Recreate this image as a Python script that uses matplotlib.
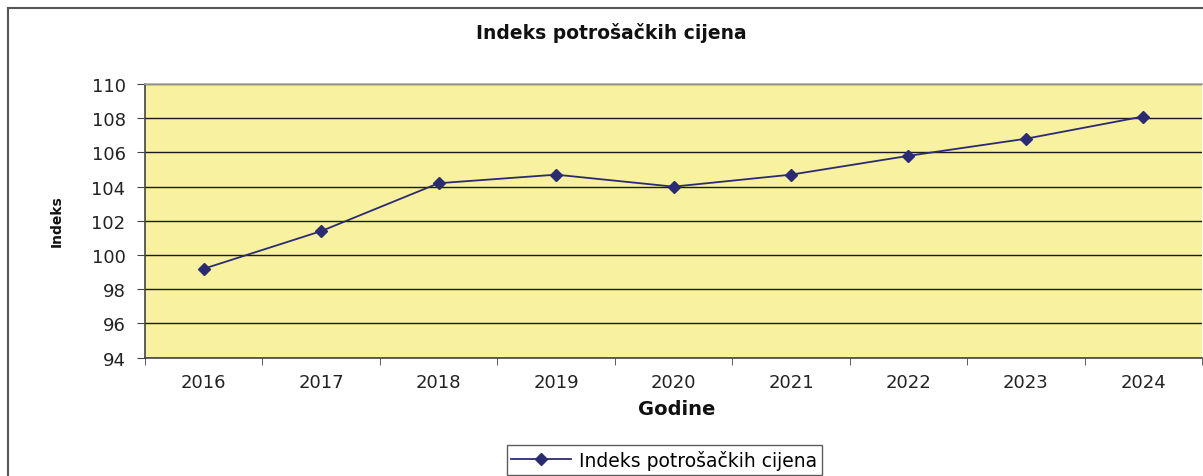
import matplotlib
matplotlib.use("Agg")
import matplotlib.pyplot as plt
from matplotlib.lines import Line2D

years = ["2016", "2017", "2018", "2019", "2020", "2021", "2022", "2023", "2024"]
values = [99.2, 101.4, 104.2, 104.7, 104.0, 104.7, 105.8, 106.8, 108.1]
yticks = [94, 96, 98, 100, 102, 104, 106, 108, 110]
title = "Indeks potrošačkih cijena"
series_name = "Indeks potrošačkih cijena"

W, H = 1203, 477
plt.rcParams['font.family'] = ['DejaVu Sans']
fig = plt.figure(figsize=(W / 100, H / 100), dpi=100)

# outer chart border
fig.add_artist(Line2D([8 / W, 8 / W], [0, 1 - 8.5 / H], transform=fig.transFigure,
                      color="#555555", lw=1.5))
fig.add_artist(Line2D([8 / W, 1], [1 - 8.5 / H, 1 - 8.5 / H], transform=fig.transFigure,
                      color="#555555", lw=1.5))

ax = fig.add_axes([145 / W, 1 - 358.7 / H, (1202 - 145) / W, (358.7 - 85) / H])
ax.set_facecolor("#F8F19F")
x = list(range(len(years)))
ax.plot(x, values, color="#2B2B73", lw=1.3, marker="D", ms=6.5,
        markerfacecolor="#2B2B73", markeredgecolor="#2B2B73", label=series_name, zorder=3)

ax.set_ylim(94, 110)
ax.set_xlim(-0.5, len(years) - 0.5)
ax.set_yticks(yticks)
ax.set_yticklabels([str(t) for t in yticks], fontsize=13, color="#222222")
ax.yaxis.grid(True, color="#1a1a1a", lw=1.0)
ax.set_axisbelow(True)

ax.set_xticks(x)
ax.set_xticklabels(years, fontsize=13, color="#222222")
ax.tick_params(axis="x", which="major", length=0, pad=11)
ax.set_xticks([i - 0.5 for i in range(len(years) + 1)], minor=True)
ax.tick_params(axis="x", which="minor", length=5, color="#444444", direction="out")
ax.tick_params(axis="y", length=6, color="#444444", direction="out", pad=8)

for s in ["left", "bottom"]:
    ax.spines[s].set_color("#444444")
    ax.spines[s].set_linewidth(1.2)
ax.spines["top"].set_color("#AAAAAA")
ax.spines["top"].set_linewidth(1.2)
ax.spines["right"].set_visible(False)

fig.text(611 / W, 1 - 33 / H, title, ha="center", va="center", fontsize=13.5,
         fontweight="bold", color="#111111")
fig.text(677 / W, 1 - 410 / H, "Godine", ha="center", va="center", fontsize=14,
         fontweight="bold", color="#111111")
fig.text(57 / W, 1 - 221 / H, "Indeks", ha="center", va="center", fontsize=10,
         fontweight="bold", rotation=90, color="#111111")

leg = ax.legend(loc="center", bbox_to_anchor=((664 - 145) / (1202 - 145), (358.7 - 461) / (358.7 - 85)),
                frameon=True, fancybox=False, fontsize=13.5, handlelength=3.2,
                borderpad=0.25, handletextpad=0.4, edgecolor="#333333")
leg.get_frame().set_linewidth(1.0)

fig.savefig("out.png", dpi=100)
